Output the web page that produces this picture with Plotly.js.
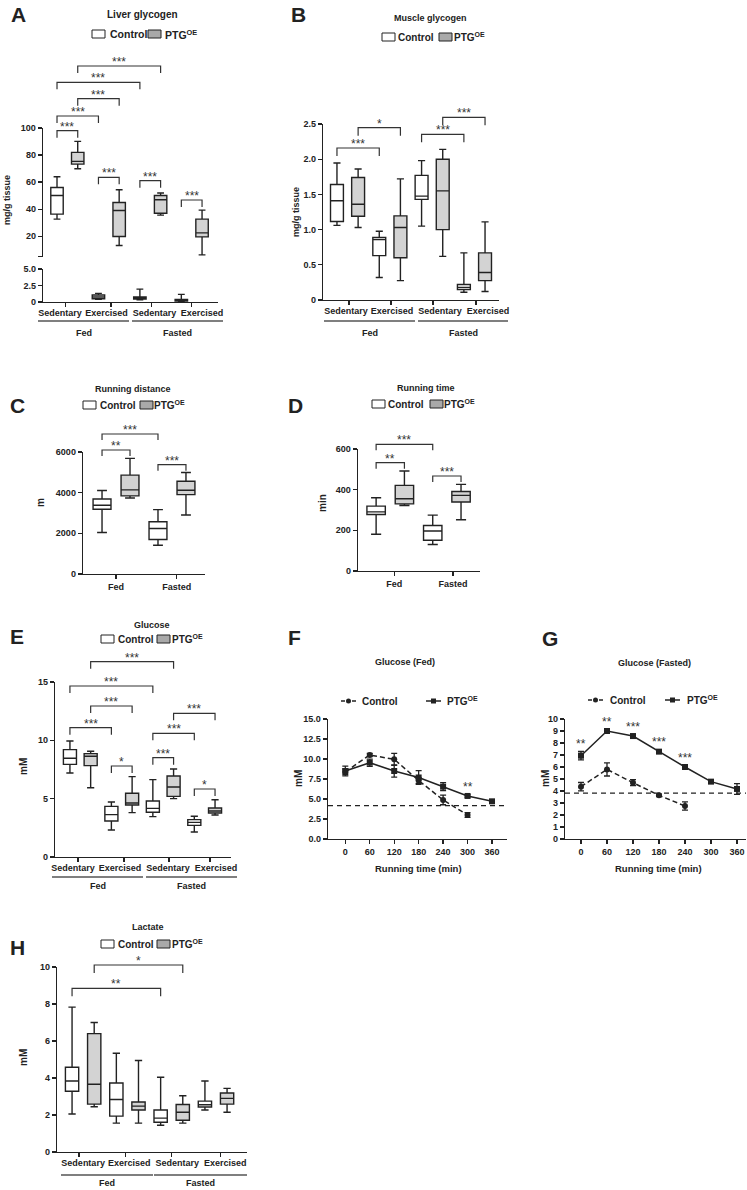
<!DOCTYPE html>
<html><head><meta charset="utf-8">
<script src="https://cdn.plot.ly/plotly-3.0.1.min.js"></script>
<style>html,body{margin:0;padding:0;background:#fff}#chart{width:747px;height:1190px}</style>
</head><body><div id="chart"></div>
<script>
// ================= DATA =================
const seriesNames = ['Control', 'PTG<sup>OE</sup>'];
const activityLabels = ['Sedentary', 'Exercised', 'Sedentary', 'Exercised'];
const conditionLabels = ['Fed', 'Fasted'];
// box order: Ctrl Sed Fed, PTG Sed Fed, Ctrl Ex Fed, PTG Ex Fed, Ctrl Sed Fasted, PTG Sed Fasted, Ctrl Ex Fasted, PTG Ex Fasted
const boxIndex8 = [0, 1, 2, 3, 4, 5, 6, 7];
const boxIndex4 = [0, 1, 2, 3]; // Ctrl Fed, PTG Fed, Ctrl Fasted, PTG Fasted

// A - Liver glycogen (mg/g tissue)
const liverLow  = [32.6, 69.9, 0.40, 13.1, 0.35, 35.6, 0.10, 6.2];
const liverQ1   = [36.3, 73.3, 0.50, 19.8, 0.45, 37.0, 0.15, 19.5];
const liverMed  = [50.1, 75.3, 0.75, 39.0, 0.60, 46.9, 0.25, 22.5];
const liverQ3   = [56.0, 82.0, 1.05, 44.9, 0.75, 50.1, 0.40, 32.6];
const liverHigh = [64.0, 90.1, 1.30, 54.3, 1.95, 51.9, 1.15, 39.3];

// B - Muscle glycogen (mg/g tissue)
const muscleLow  = [1.06, 1.03, 0.32, 0.275, 1.05, 0.62, 0.11, 0.12];
const muscleQ1   = [1.115, 1.19, 0.63, 0.60, 1.43, 1.00, 0.15, 0.275];
const muscleMed  = [1.41, 1.36, 0.86, 1.03, 1.475, 1.55, 0.18, 0.39];
const muscleQ3   = [1.64, 1.74, 0.89, 1.195, 1.77, 2.00, 0.22, 0.67];
const muscleHigh = [1.945, 1.86, 0.977, 1.72, 1.98, 2.14, 0.67, 1.11];

// C - Running distance (m)
const distLow  = [2044, 3741, 1417, 2900];
const distQ1   = [3181, 3840, 1697, 3906];
const distMed  = [3379, 4137, 2241, 4120];
const distQ3   = [3692, 4862, 2571, 4565];
const distHigh = [4104, 5686, 3164, 4994];

// D - Running time (min)
const timeLow  = [181, 322, 130, 252];
const timeQ1   = [278, 330, 151, 339];
const timeMed  = [291, 355, 197, 372];
const timeQ3   = [319, 421, 224, 391];
const timeHigh = [360, 492, 275, 426];

// E - Glucose (mM)
const gluLow  = [7.20, 5.94, 2.31, 3.80, 3.46, 5.00, 2.14, 3.60];
const gluQ1   = [7.94, 7.83, 3.09, 4.46, 3.83, 5.20, 2.71, 3.77];
const gluMed  = [8.46, 8.63, 3.63, 4.63, 4.17, 6.00, 2.97, 3.94];
const gluQ3   = [9.20, 8.86, 4.34, 5.46, 4.80, 6.94, 3.20, 4.20];
const gluHigh = [9.94, 9.06, 4.71, 6.89, 6.63, 7.54, 3.49, 4.91];

// F - Glucose (Fed) time course
const timeCtrlF = [0, 60, 120, 180, 240, 300];
const ctrlF     = [8.40, 10.50, 9.96, 7.31, 4.88, 3.00];
const ctrlFErr  = [0.35, 0.20, 0.75, 0.35, 0.60, 0.30];
const timePtgF  = [0, 60, 120, 180, 240, 300, 360];
const ptgF      = [8.50, 9.54, 8.50, 7.69, 6.54, 5.38, 4.71];
const ptgFErr   = [0.60, 0.45, 0.77, 0.85, 0.50, 0.15, 0.15];
const sigF      = ['', '', '', '', '', '**', ''];
const thresholdF = 4.16;

// G - Glucose (Fasted) time course
const timeCtrlG = [0, 60, 120, 180, 240];
const ctrlG     = [4.36, 5.80, 4.69, 3.64, 2.75];
const ctrlGErr  = [0.35, 0.55, 0.25, 0.10, 0.35];
const timePtgG  = [0, 60, 120, 180, 240, 300, 360];
const ptgG      = [6.94, 9.00, 8.58, 7.28, 6.00, 4.78, 4.17];
const ptgGErr   = [0.35, 0.10, 0.10, 0.10, 0.10, 0.15, 0.45];
const sigG      = ['**', '**', '***', '***', '***', '', ''];
const thresholdG = 3.83;
const timeTicks = [0, 60, 120, 180, 240, 300, 360];

// H - Lactate (mM)
const lacLow  = [2.05, 2.45, 1.56, 1.56, 1.45, 1.56, 2.27, 2.15];
const lacQ1   = [3.28, 2.59, 1.94, 2.27, 1.61, 1.72, 2.43, 2.59];
const lacMed  = [3.84, 3.66, 2.84, 2.48, 1.83, 2.15, 2.55, 2.90];
const lacQ3   = [4.58, 6.40, 3.73, 2.70, 2.27, 2.57, 2.75, 3.19];
const lacHigh = [7.83, 7.00, 5.34, 4.95, 4.04, 3.04, 3.84, 3.44];

// ================= STYLE / LAYOUT HELPERS =================
const W = 747, H = 1190;
const FONT = 'Liberation Sans, Arial, Helvetica, sans-serif';
const INK = '#222222';
const GREY = '#d3d3d3';
const LEG_GREY = '#a9a9a9';
const px = x => x / W;
const py = y => 1 - y / H;
const xdom = (l, r) => [l / W, r / W];
const ydom = (t, b) => [1 - b / H, 1 - t / H];

const traces = [], shapes = [], annotations = [];
const layout = {
  width: W, height: H, autosize: false,
  margin: {l: 0, r: 0, t: 0, b: 0},
  paper_bgcolor: '#ffffff', plot_bgcolor: 'rgba(0,0,0,0)',
  showlegend: false, boxmode: 'overlay',
  font: {family: FONT, color: INK}
};

function fnt(size, bold = true, color = INK) { return {family: FONT, size: size, color: color, weight: bold ? 700 : 400}; }
function txt(x, y, text, size, opts) {
  annotations.push(Object.assign({xref: 'paper', yref: 'paper', x: px(x), y: py(y), text: text,
    showarrow: false, xanchor: 'center', yanchor: 'middle', font: fnt(size)}, opts || {}));
}
function axis(domain, range, anchor, extra) {
  return Object.assign({domain: domain, range: range, anchor: anchor, type: 'linear',
    showline: true, linecolor: INK, linewidth: 1.3, ticks: 'outside', ticklen: 4, tickwidth: 1.3,
    tickcolor: INK, showgrid: false, zeroline: false, tickfont: fnt(9), fixedrange: true}, extra || {});
}
// category axis: labels at label centres (no marks), tick marks as minor ticks at group centres
function catAxis(domain, range, anchor, labelPos, labels, markPos) {
  return axis(domain, range, anchor, {tickmode: 'array', tickvals: labelPos, ticktext: labels, ticks: '',
    ticklabelstandoff: 2,
    minor: {tickmode: 'array', tickvals: markPos, ticks: 'outside', ticklen: 4, tickwidth: 1.3, tickcolor: INK, showgrid: false}});
}
function pick(arr, idx) { return idx.map(i => arr[i]); }
function boxes(ax, ay, pos, low, q1, med, q3, high, width) {
  const ci = pos.map((p, i) => i).filter(i => i % 2 === 0), pi = pos.map((p, i) => i).filter(i => i % 2 === 1);
  [[ci, '#ffffff'], [pi, GREY]].forEach(([idx, fill]) => {
    traces.push({type: 'box', xaxis: ax, yaxis: ay, x: pick(pos, idx),
      q1: pick(q1, idx), median: pick(med, idx), q3: pick(q3, idx),
      lowerfence: pick(low, idx), upperfence: pick(high, idx),
      width: width, whiskerwidth: 0.55, boxpoints: false, fillcolor: fill,
      line: {color: INK, width: 1.4}, hoverinfo: 'skip'});
  });
}
function bracket(ax, i, j, yPx, leg, label) {
  shapes.push({type: 'path', xref: ax, yref: 'paper',
    path: 'M ' + i + ',' + py(yPx + leg) + ' L ' + i + ',' + py(yPx) + ' L ' + j + ',' + py(yPx) + ' L ' + j + ',' + py(yPx + leg),
    line: {color: '#333', width: 1.2}});
  annotations.push({xref: ax, yref: 'paper', x: (i + j) / 2, y: py(yPx), yanchor: 'bottom', yshift: -5,
    text: label, showarrow: false, font: fnt(12, false, '#333')});
}
function boxLegend(y, r1, t1, r2, t2, size) {
  [[r1, '#ffffff'], [r2, LEG_GREY]].forEach(([r, fill]) => shapes.push({type: 'rect', xref: 'paper', yref: 'paper',
    x0: px(r), x1: px(r + 13), y0: py(y + 4), y1: py(y - 4), fillcolor: fill, line: {color: INK, width: 1}}));
  txt(t1, y, seriesNames[0], size, {xanchor: 'left'});
  txt(t2, y, seriesNames[1], size, {xanchor: 'left'});
}
function lineLegend(y, g1, t1, g2, t2, size) {
  const ln = (a, b, w) => shapes.push({type: 'line', xref: 'paper', yref: 'paper', x0: px(a), x1: px(b), y0: py(y), y1: py(y), line: {color: INK, width: w}});
  ln(g1, g1 + 4, 1.5); ln(g1 + 11, g1 + 15, 1.5);
  shapes.push({type: 'circle', xref: 'paper', yref: 'paper', x0: px(g1 + 5), x1: px(g1 + 10), y0: py(y + 2.5), y1: py(y - 2.5), fillcolor: INK, line: {width: 0}});
  ln(g2, g2 + 15, 1.5);
  shapes.push({type: 'rect', xref: 'paper', yref: 'paper', x0: px(g2 + 5), x1: px(g2 + 10), y0: py(y + 2.5), y1: py(y - 2.5), fillcolor: INK, line: {width: 0}});
  txt(t1, y, seriesNames[0], size, {xanchor: 'left'});
  txt(t2, y, seriesNames[1], size, {xanchor: 'left'});
}
function groupLines(segs, yLine, yText, labels) {
  segs.forEach(([a, b], i) => {
    shapes.push({type: 'line', xref: 'paper', yref: 'paper', x0: px(a), x1: px(b), y0: py(yLine), y1: py(yLine), line: {color: '#555', width: 1.3}});
    txt((a + b) / 2, yText, labels[i], 9);
  });
}
function yTitle(x, y, text, size) { txt(x, y, text, size, {textangle: -90}); }
function panelLetter(x, y, l) { txt(x, y, l, 21); }
function sigMarks(ax, ay, xs, ys, errs, sig) {
  xs.forEach((t, i) => { if (sig[i]) annotations.push({xref: ax, yref: ay, x: t, y: ys[i] + errs[i], yanchor: 'bottom', yshift: -1,
    text: sig[i], showarrow: false, font: fnt(12, false, '#333')}); });
}
function timeSeries(ax, ay, xs, ys, errs, dashed) {
  traces.push({type: 'scatter', mode: 'lines+markers', xaxis: ax, yaxis: ay, x: xs, y: ys,
    error_y: {type: 'data', array: errs, thickness: 1.3, width: 3, color: INK},
    line: {color: INK, width: 1.5, dash: dashed ? '5px,3px' : 'solid'},
    marker: {symbol: dashed ? 'circle' : 'square', size: 6, color: INK}, hoverinfo: 'skip', cliponaxis: false});
}

// ================= PANEL A =================
layout.xaxis  = axis(xdom(43, 218), [-0.676, 7.77], 'y', {visible: false});
layout.yaxis  = axis(ydom(128, 256.5), [5, 100], 'x', {tickvals: [20, 40, 60, 80, 100],
  minor: {tickmode: 'array', tickvals: [5], ticks: 'outside', ticklen: 4, tickwidth: 1.3, tickcolor: INK, showgrid: false}});
layout.xaxis2 = catAxis(xdom(43, 218), [-0.676, 7.77], 'y2', [0.145, 2.39, 4.71, 7.0], activityLabels, [0.4, 2.6, 4.55, 6.5]);
layout.yaxis2 = axis(ydom(269, 302), [0, 5], 'x2', {tickvals: [0, 2.5, 5], ticktext: ['0', '2.5', '5.0']});
boxes('x', 'y', boxIndex8, liverLow, liverQ1, liverMed, liverQ3, liverHigh, 0.6);
boxes('x2', 'y2', boxIndex8, liverLow, liverQ1, liverMed, liverQ3, liverHigh, 0.6);
panelLetter(18, 15, 'A');
txt(142, 15, 'Liver glycogen', 10);
boxLegend(34, 92, 108, 148, 163, 10.5);
[[0, 1, 130.7], [0, 2, 116], [1, 3, 98.7], [0, 4, 82.3], [1, 5, 66], [2, 3, 177.3], [4, 5, 180.7], [6, 7, 200]]
  .forEach(b => bracket('x', b[0], b[1], b[2], 7, '***'));
yTitle(7, 200, 'mg/g tissue', 9);
groupLines([[38, 129], [132, 223]], 321, 333, conditionLabels);

// ================= PANEL B =================
layout.xaxis3 = catAxis(xdom(323, 499), [-0.66, 7.66], 'y3', [0.43, 2.6, 4.87, 7.14], activityLabels, [0.57, 2.55, 4.54, 6.57]);
layout.yaxis3 = axis(ydom(124, 300), [0, 2.5], 'x3', {tickvals: [0, 0.5, 1, 1.5, 2, 2.5], ticktext: ['0', '0.5', '1.0', '1.5', '2.0', '2.5']});
boxes('x3', 'y3', boxIndex8, muscleLow, muscleQ1, muscleMed, muscleQ3, muscleHigh, 0.61);
panelLetter(298, 15, 'B');
txt(431, 18, 'Muscle glycogen', 9);
boxLegend(37, 382, 396, 439, 452, 10);
[[0, 2, 148, '***'], [1, 3, 127.7, '*'], [4, 6, 134.3, '***'], [5, 7, 117.3, '***']]
  .forEach(b => bracket('x3', b[0], b[1], b[2], 8, b[3]));
yTitle(296, 212, 'mg/g tissue', 9);
groupLines([[324, 415], [418, 508]], 321, 333, conditionLabels);

// ================= PANEL C =================
layout.xaxis4 = axis(xdom(83, 205), [-0.68, 3.68], 'y4', {tickvals: [0.5, 2.67], ticktext: conditionLabels});
layout.yaxis4 = axis(ydom(452, 574), [0, 6000], 'x4', {tickvals: [0, 2000, 4000, 6000]});
boxes('x4', 'y4', boxIndex4, distLow, distQ1, distMed, distQ3, distHigh, 0.64);
panelLetter(17, 405, 'C');
txt(133, 389, 'Running distance', 9);
boxLegend(405, 83, 98, 140, 152, 10);
[[0, 1, 450, '**'], [0, 2, 434, '***'], [2, 3, 464.7, '***']]
  .forEach(b => bracket('x4', b[0], b[1], b[2], 6, b[3]));
yTitle(40, 503, 'm', 10);

// ================= PANEL D =================
layout.xaxis5 = axis(xdom(358, 480), [-0.64, 3.67], 'y5', {tickvals: [0.64, 2.72], ticktext: conditionLabels});
layout.yaxis5 = axis(ydom(449, 571), [0, 600], 'x5', {tickvals: [0, 200, 400, 600]});
boxes('x5', 'y5', boxIndex4, timeLow, timeQ1, timeMed, timeQ3, timeHigh, 0.65);
panelLetter(295, 405, 'D');
txt(426, 388, 'Running time', 9);
boxLegend(404, 372, 386, 430, 442, 10);
[[0, 1, 462.7, '**'], [0, 2, 444.3, '***'], [2, 3, 476, '***']]
  .forEach(b => bracket('x5', b[0], b[1], b[2], 6, b[3]));
yTitle(322, 503, 'min', 10);

// ================= PANEL E =================
layout.xaxis6 = catAxis(xdom(55, 231), [-0.72, 7.77], 'y6', [0.145, 2.42, 4.73, 7.05], activityLabels, [0.39, 2.61, 4.78, 6.76]);
layout.yaxis6 = axis(ydom(682, 857), [0, 15], 'x6', {tickvals: [0, 5, 10, 15]});
boxes('x6', 'y6', boxIndex8, gluLow, gluQ1, gluMed, gluQ3, gluHigh, 0.63);
panelLetter(17, 636, 'E');
txt(152, 625, 'Glucose', 9);
boxLegend(639, 101, 116, 157, 170, 10);
[[1, 5, 661.7, '***'], [0, 4, 686, '***'], [1, 3, 706, '***'], [0, 2, 727.7, '***'], [2, 3, 766, '*'],
 [5, 7, 713.3, '***'], [4, 6, 733.3, '***'], [4, 5, 757.7, '***'], [6, 7, 789, '*']]
  .forEach(b => bracket('x6', b[0], b[1], b[2], 7, b[3]));
yTitle(23, 767, 'mM', 10);
groupLines([[52, 143], [146, 237]], 877, 886, conditionLabels);

// ================= PANEL F =================
layout.xaxis7 = axis(xdom(328, 507), [-42.45, 396.8], 'y7', {tickvals: timeTicks});
layout.yaxis7 = axis(ydom(719, 839), [0, 15], 'x7', {tickvals: [0, 2.5, 5, 7.5, 10, 12.5, 15], ticktext: ['0.0', '2.5', '5.0', '7.5', '10.0', '12.5', '15.0']});
timeSeries('x7', 'y7', timeCtrlF, ctrlF, ctrlFErr, true);
timeSeries('x7', 'y7', timePtgF, ptgF, ptgFErr, false);
shapes.push({type: 'line', xref: 'x7 domain', yref: 'y7', x0: 0, x1: 1, y0: thresholdF, y1: thresholdF, line: {color: INK, width: 1.3, dash: '5px,4px'}});
sigMarks('x7', 'y7', timePtgF, ptgF, ptgFErr, sigF);
panelLetter(294, 637, 'F');
txt(405, 662, 'Glucose (Fed)', 9);
lineLegend(701, 341, 360, 426, 445, 10);
yTitle(298, 779, 'mM', 10);
txt(418, 868, 'Running time (min)', 9.5);

// ================= PANEL G =================
layout.xaxis8 = axis(xdom(565, 746), [-36.9, 380.8], 'y8', {tickvals: timeTicks});
layout.yaxis8 = axis(ydom(719, 839), [0, 10], 'x8', {tickvals: [0, 1, 2, 3, 4, 5, 6, 7, 8, 9, 10]});
timeSeries('x8', 'y8', timeCtrlG, ctrlG, ctrlGErr, true);
timeSeries('x8', 'y8', timePtgG, ptgG, ptgGErr, false);
shapes.push({type: 'line', xref: 'x8 domain', yref: 'y8', x0: 0, x1: 1, y0: thresholdG, y1: thresholdG, line: {color: INK, width: 1.3, dash: '5px,4px'}});
sigMarks('x8', 'y8', timePtgG, ptgG, ptgGErr, sigG);
panelLetter(550, 638, 'G');
txt(654, 663, 'Glucose (Fasted)', 9);
lineLegend(700, 588, 608, 665, 685, 10);
yTitle(545, 779, 'mM', 10);
txt(658, 868, 'Running time (min)', 9.5);

// ================= PANEL H =================
layout.xaxis9 = catAxis(xdom(57, 247), [-0.68, 7.9], 'y9', [0.5, 2.58, 4.75, 6.92], activityLabels, [0.32, 2.4, 4.48, 6.7]);
layout.yaxis9 = axis(ydom(967, 1152), [0, 10], 'x9', {tickvals: [0, 2, 4, 6, 8, 10]});
boxes('x9', 'y9', boxIndex8, lacLow, lacQ1, lacMed, lacQ3, lacHigh, 0.6);
panelLetter(17, 948, 'H');
txt(148, 927, 'Lactate', 9);
boxLegend(944, 101, 116, 157, 170, 10);
[[1, 5, 965, '*'], [0, 4, 988.3, '**']].forEach(b => bracket('x9', b[0], b[1], b[2], 8, b[3]));
yTitle(23, 1058, 'mM', 10);
groupLines([[61, 153], [154, 247]], 1175, 1183, conditionLabels);

layout.shapes = shapes;
layout.annotations = annotations;
Plotly.newPlot('chart', traces, layout, {displayModeBar: false, staticPlot: true});
</script>
</body></html>
